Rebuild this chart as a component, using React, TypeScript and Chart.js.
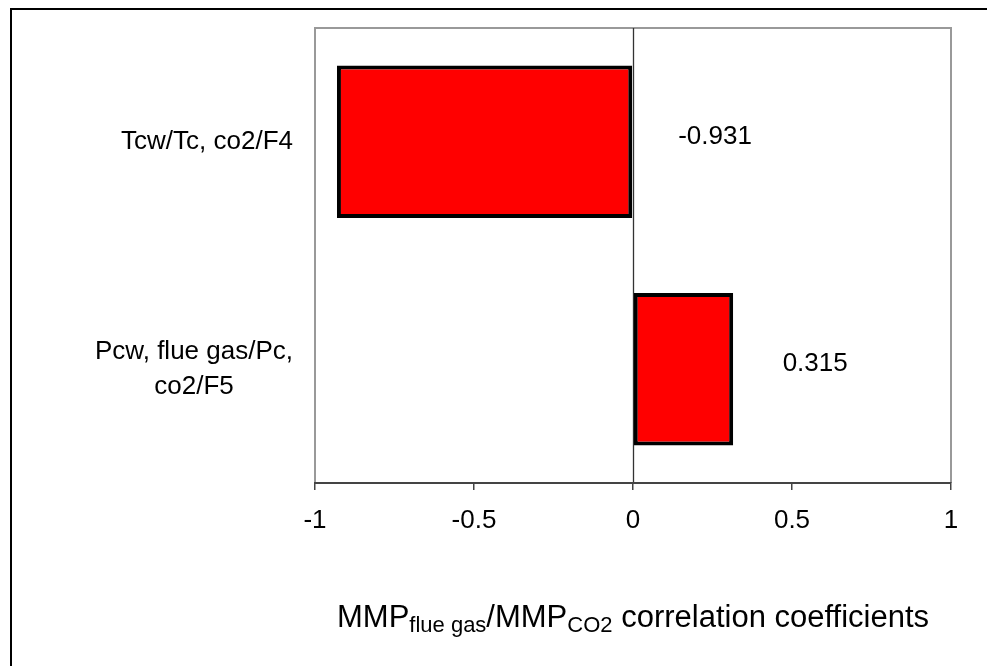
import React, { useEffect, useRef } from "react";
import { Chart, registerables } from "chart.js";

Chart.register(...registerables);

const categories: string[][] = [["Tcw/Tc, co2/F4"], ["Pcw, flue gas/Pc,", "co2/F5"]];
const coefficients: number[] = [-0.931, 0.315];
const valueLabels: string[] = ["-0.931", "0.315"];
const tickValues: number[] = [-1, -0.5, 0, 0.5, 1];
const titleParts: { text: string; sub: boolean }[] = [
  { text: "MMP", sub: false },
  { text: "flue gas", sub: true },
  { text: "/MMP", sub: false },
  { text: "CO2", sub: true },
  { text: " correlation coefficients", sub: false },
];

const FONT = "'Liberation Sans', Arial, sans-serif";

const decorPlugin = {
  id: "decor",
  beforeDraw(chart: any) {
    const { ctx, chartArea } = chart;
    ctx.save();
    ctx.strokeStyle = "#000";
    ctx.lineWidth = 2;
    ctx.strokeRect(11, 9, 1200, 1200);
    ctx.strokeStyle = "#999";
    ctx.lineWidth = 2;
    ctx.beginPath();
    ctx.moveTo(chartArea.left, chartArea.bottom);
    ctx.lineTo(chartArea.left, chartArea.top);
    ctx.lineTo(chartArea.right, chartArea.top);
    ctx.lineTo(chartArea.right, chartArea.bottom);
    ctx.stroke();
    const x0 = Math.round(chart.scales.x.getPixelForValue(0)) + 0.5;
    ctx.strokeStyle = "#333";
    ctx.lineWidth = 1.3;
    ctx.beginPath();
    ctx.moveTo(x0, chartArea.top);
    ctx.lineTo(x0, chartArea.bottom);
    ctx.stroke();
    ctx.restore();
  },
  afterDraw(chart: any) {
    const { ctx, chartArea } = chart;
    const xs = chart.scales.x;
    const ys = chart.scales.y;
    ctx.save();
    ctx.fillStyle = "#000";
    ctx.font = `26px ${FONT}`;
    ctx.textBaseline = "middle";
    ctx.textAlign = "center";
    const lineH = 35;
    categories.forEach((lines, i) => {
      const cy = ys.getPixelForValue(i);
      const w = Math.max(...lines.map((l) => ctx.measureText(l).width));
      const right = chartArea.left - 22;
      const cx = right - w / 2;
      const startY = cy - ((lines.length - 1) * lineH) / 2;
      lines.forEach((l, j) => ctx.fillText(l, cx, startY + j * lineH));
    });
    ctx.font = `26px ${FONT}`;
    coefficients.forEach((v, i) => {
      const x = xs.getPixelForValue(Math.max(v, 0)) + 82;
      const y = ys.getPixelForValue(i) - 5;
      ctx.fillText(valueLabels[i], x, y);
    });
    ctx.textAlign = "left";
    ctx.textBaseline = "alphabetic";
    const big = `31px ${FONT}`;
    const small = `22px ${FONT}`;
    let total = 0;
    const widths = titleParts.map((p) => {
      ctx.font = p.sub ? small : big;
      const w = ctx.measureText(p.text).width;
      total += w;
      return w;
    });
    let x = (chartArea.left + chartArea.right) / 2 - total / 2;
    const baseline = xs.bottom - 39;
    titleParts.forEach((p, i) => {
      ctx.font = p.sub ? small : big;
      ctx.fillText(p.text, x, p.sub ? baseline + 5 : baseline);
      x += widths[i];
    });
    ctx.restore();
  },
};

export default function App() {
  const ref = useRef<HTMLCanvasElement>(null);
  useEffect(() => {
    if (!ref.current) return;
    const chart = new Chart(ref.current, {
      type: "bar",
      data: {
        labels: categories as any,
        datasets: [
          {
            data: coefficients,
            backgroundColor: "#ff0000",
            borderColor: "#000",
            borderWidth: 4,
            borderSkipped: false,
            barPercentage: 0.67,
            categoryPercentage: 1,
          },
        ],
      },
      options: {
        indexAxis: "y",
        animation: false,
        responsive: false,
        layout: { padding: { top: 28, right: 36, left: 0, bottom: 0 } },
        plugins: { legend: { display: false }, tooltip: { enabled: false }, title: { display: false } },
        scales: {
          x: {
            type: "linear",
            min: -1,
            max: 1,
            afterBuildTicks: (s: any) => {
              s.ticks = tickValues.map((v) => ({ value: v }));
            },
            afterFit: (s: any) => {
              s.height = 183;
            },
            ticks: {
              color: "#000",
              font: { family: FONT, size: 26 },
              padding: 15,
              maxRotation: 0,
              callback: (v: any) => String(v),
            },
            grid: {
              drawOnChartArea: false,
              drawTicks: true,
              tickLength: 7,
              color: "#444",
              lineWidth: 1.5,
            },
            border: { display: true, color: "#444", width: 2 },
          },
          y: {
            type: "category",
            afterFit: (s: any) => {
              s.width = 315;
            },
            ticks: { display: false },
            grid: { display: false },
            border: { display: false },
          },
        },
      },
      plugins: [decorPlugin],
    });
    return () => chart.destroy();
  }, []);
  return (
    <div style={{ position: "absolute", left: 0, top: 0, width: 987, height: 666, background: "#fff" }}>
      <canvas ref={ref} width={987} height={666} />
    </div>
  );
}
